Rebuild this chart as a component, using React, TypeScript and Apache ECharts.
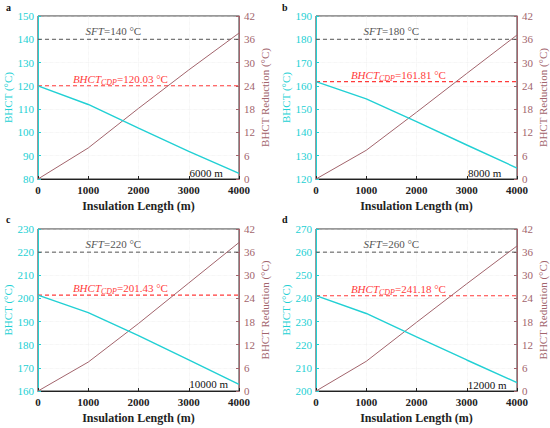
import React, { useEffect, useRef } from 'react';
import * as echarts from 'echarts';

// ---- data ----
const insulationLength = [0, 1000, 2000, 3000, 4000];
const bhctA = [120.03, 112.0, 101.8, 91.9, 82.4];
const reductionA = [0, 8.0, 18.2, 28.1, 37.6];
const bhctB = [161.81, 154.4, 144.6, 134.6, 124.7];
const reductionB = [0, 7.4, 17.2, 27.2, 37.1];
const bhctC = [201.43, 193.9, 183.9, 173.4, 162.9];
const reductionC = [0, 7.5, 17.5, 28.0, 38.5];
const bhctD = [241.18, 233.5, 223.4, 213.4, 203.6];
const reductionD = [0, 7.7, 17.8, 27.8, 37.6];
const sftValues = [140, 180, 220, 260];
const cdpValues = [120.03, 161.81, 201.43, 241.18];
const depthLabels = ['6000 m', '8000 m', '10000 m', '12000 m'];
const bhctMins = [80, 120, 160, 200];
const bhctMaxs = [150, 190, 230, 270];
const bhctInterval = 10;
const reductionMin = 0;
const reductionMax = 42;
const reductionInterval = 6;
const xMin = 0;
const xMax = 4000;
const xInterval = 1000;
const panelLetters = ['a', 'b', 'c', 'd'];

const bhctSeries = [bhctA, bhctB, bhctC, bhctD];
const reductionSeries = [reductionA, reductionB, reductionC, reductionD];

// ---- layout / style ----
const FONT = "'Liberation Serif', 'Times New Roman', serif";
const CYAN = '#22D0D4';
const BROWN = '#A2646C';
const RED = '#FF3B3B';
const GRAY = '#555555';

const grids = [
  { left: 38, top: 16, width: 201, height: 163 },
  { left: 316, top: 16, width: 201, height: 163 },
  { left: 38, top: 229, width: 201, height: 162 },
  { left: 316, top: 229, width: 201, height: 162 },
];
const letterPos = [
  [6, 12],
  [282, 12],
  [6, 224],
  [282, 224],
];
const depthLabelX = [3690, 3700, 3790, 3800];
const depthLabelDy = [2.4, 2.7, 3.1, 2.8];
const sftLabelX = 1500;
const cdpLabelX = 1640;

const hiddenMarker = {
  silent: true,
  symbol: 'rect',
  symbolSize: 1,
  itemStyle: { color: 'rgba(0,0,0,0)' },
};

function buildOption() {
  const xAxis: any[] = [];
  const yAxis: any[] = [];
  const series: any[] = [];
  const graphic: any[] = [];

  grids.forEach((g, i) => {
    xAxis.push({
      type: 'value',
      gridIndex: i,
      min: xMin,
      max: xMax,
      interval: xInterval,
      name: 'Insulation Length (m)',
      nameLocation: 'middle',
      nameGap: 21,
      nameTextStyle: { fontFamily: FONT, fontSize: 12, color: '#222', fontWeight: 'bold' },
      axisLine: { show: true, lineStyle: { color: '#222', width: 1 } },
      axisTick: { show: true, inside: true, length: 3, lineStyle: { color: '#222' } },
      axisLabel: {
        fontFamily: FONT,
        fontSize: 11,
        lineHeight: 9,
        color: '#222',
        margin: 6,
        fontWeight: 'bold',
        formatter: (v: number) => String(v),
      },
      splitLine: { show: true, lineStyle: { color: '#e8e8e8', width: 0.6, type: 'dotted' } },
    });
    yAxis.push({
      type: 'value',
      gridIndex: i,
      position: 'left',
      min: bhctMins[i],
      max: bhctMaxs[i],
      interval: bhctInterval,
      name: 'BHCT (°C)',
      nameLocation: 'middle',
      nameRotate: 90,
      nameGap: 24,
      nameTextStyle: { fontFamily: FONT, fontSize: 11, color: CYAN },
      axisLine: { show: true, lineStyle: { color: CYAN, width: 1 } },
      axisTick: { show: true, inside: true, length: 3, lineStyle: { color: CYAN } },
      axisLabel: { fontFamily: FONT, fontSize: 11, lineHeight: 9, color: CYAN, margin: 4 },
      splitLine: { show: true, lineStyle: { color: '#e8e8e8', width: 0.6, type: 'dotted' } },
    });
    yAxis.push({
      type: 'value',
      gridIndex: i,
      position: 'right',
      min: reductionMin,
      max: reductionMax,
      interval: reductionInterval,
      name: 'BHCT Reduction (°C)',
      nameLocation: 'middle',
      nameRotate: 90,
      nameGap: 20,
      nameTextStyle: { fontFamily: FONT, fontSize: 11, color: BROWN },
      axisLine: { show: true, lineStyle: { color: BROWN, width: 1 } },
      axisTick: { show: true, inside: true, length: 3, lineStyle: { color: BROWN } },
      axisLabel: { fontFamily: FONT, fontSize: 11, lineHeight: 9, color: BROWN, margin: 5 },
      splitLine: { show: false },
    });

    const bh = bhctSeries[i];
    const rd = reductionSeries[i];

    // SFT reference line (dashed gray) with its label
    series.push({
      type: 'line',
      xAxisIndex: i,
      yAxisIndex: 2 * i,
      data: [[xMin, sftValues[i]], [xMax, sftValues[i]]],
      showSymbol: false,
      symbol: 'none',
      silent: true,
      lineStyle: { color: GRAY, type: [4, 3], width: 1 },
      itemStyle: { color: GRAY },
      z: 2,
      markPoint: {
        ...hiddenMarker,
        data: [
          {
            coord: [sftLabelX, sftValues[i]],
            label: {
              show: true,
              position: 'top',
              distance: 1,
              formatter: '{i|SFT}{n|=' + sftValues[i] + ' °C}',
              rich: {
                i: { fontFamily: FONT, fontSize: 11, fontStyle: 'italic', color: GRAY, lineHeight: 13 },
                n: { fontFamily: FONT, fontSize: 11, color: GRAY, lineHeight: 13 },
              },
            },
          },
        ],
      },
    });

    // CDP reference line (dashed red) with its label
    series.push({
      type: 'line',
      xAxisIndex: i,
      yAxisIndex: 2 * i,
      data: [[xMin, cdpValues[i]], [xMax, cdpValues[i]]],
      showSymbol: false,
      symbol: 'none',
      silent: true,
      lineStyle: { color: RED, type: [4, 3], width: 1.1 },
      itemStyle: { color: RED },
      z: 2,
      markPoint: {
        ...hiddenMarker,
        data: [
          {
            coord: [cdpLabelX, cdpValues[i]],
            label: {
              show: true,
              position: 'top',
              distance: -1,
              formatter: '{i|BHCT}{s|CDP}{n|=' + cdpValues[i].toFixed(2) + ' °C}',
              rich: {
                i: { fontFamily: FONT, fontSize: 11, fontStyle: 'italic', color: RED, lineHeight: 15 },
                s: { fontFamily: FONT, fontSize: 8, fontStyle: 'italic', color: RED, lineHeight: 8, verticalAlign: 'bottom' },
                n: { fontFamily: FONT, fontSize: 11, color: RED, lineHeight: 15 },
              },
            },
          },
        ],
      },
    });

    // BHCT curve
    series.push({
      type: 'line',
      xAxisIndex: i,
      yAxisIndex: 2 * i,
      data: insulationLength.map((x, k) => [x, bh[k]]),
      showSymbol: false,
      symbol: 'none',
      lineStyle: { color: CYAN, width: 1.4 },
      itemStyle: { color: CYAN },
      z: 4,
      markPoint: {
        ...hiddenMarker,
        data: [
          {
            coord: [depthLabelX[i], bhctMins[i] + depthLabelDy[i]],
            label: {
              show: true,
              position: 'left',
              distance: 0,
              formatter: depthLabels[i],
              fontFamily: FONT,
              fontSize: 11,
              color: '#111',
            },
          },
        ],
      },
    });

    // BHCT reduction curve
    series.push({
      type: 'line',
      xAxisIndex: i,
      yAxisIndex: 2 * i + 1,
      data: insulationLength.map((x, k) => [x, rd[k]]),
      showSymbol: false,
      symbol: 'none',
      lineStyle: { color: BROWN, width: 1 },
      itemStyle: { color: BROWN },
      z: 3,
    });

    graphic.push({
      type: 'text',
      x: letterPos[i][0],
      y: letterPos[i][1],
      style: {
        text: panelLetters[i],
        font: 'bold 10px ' + FONT,
        fill: '#111',
        textVerticalAlign: 'bottom',
      },
    });
  });

  return {
    animation: false,
    backgroundColor: '#ffffff',
    grid: grids.map((g) => ({
      ...g,
      show: true,
      borderColor: '#333',
      borderWidth: 1,
      backgroundColor: 'transparent',
      containLabel: false,
    })),
    xAxis,
    yAxis,
    series,
    graphic,
  };
}

export default function App() {
  const ref = useRef<HTMLDivElement>(null);
  useEffect(() => {
    if (!ref.current) return;
    const chart = echarts.init(ref.current, undefined, { renderer: 'svg' });
    chart.setOption(buildOption() as any);
    return () => chart.dispose();
  }, []);
  return (
    <div
      ref={ref}
      style={{ position: 'fixed', left: 0, top: 0, width: 550, height: 428, background: '#fff' }}
    />
  );
}
